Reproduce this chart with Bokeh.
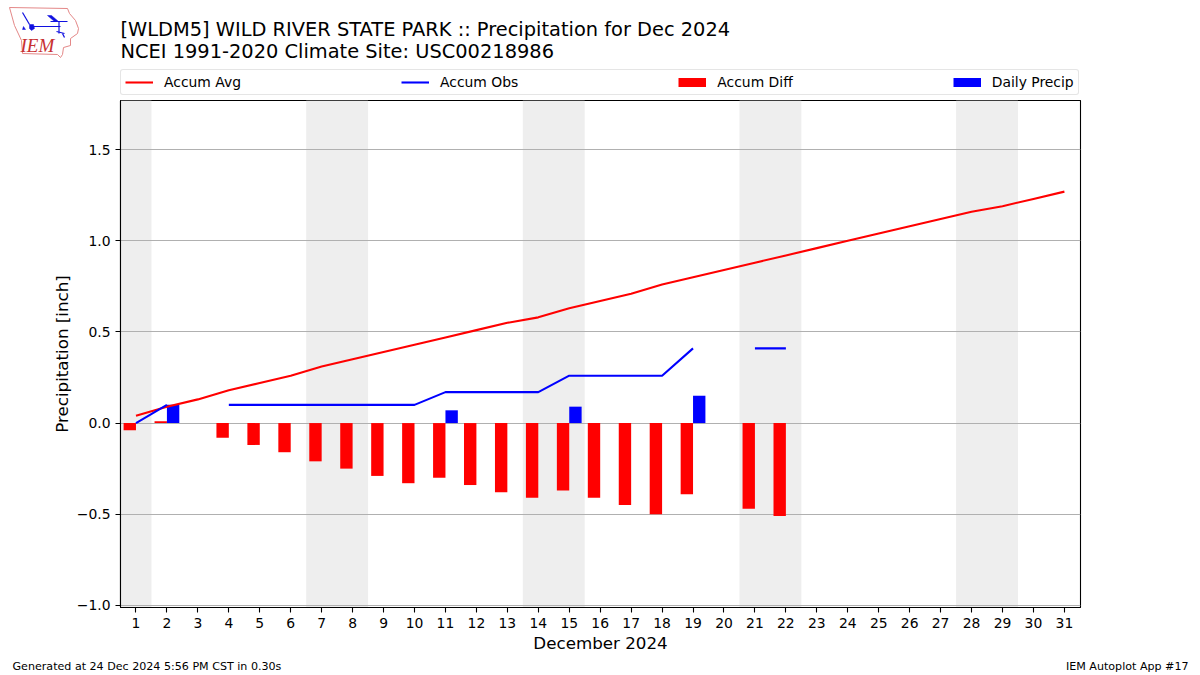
from bokeh.plotting import figure
from bokeh.embed import file_html
from bokeh.resources import INLINE
from bokeh.layouts import column
from bokeh.core.properties import value
from bokeh.models import (Range1d, Legend, LegendItem, BoxAnnotation, FixedTicker, ColumnDataSource)

days = list(range(1, 32))
accum_avg = [.04, .09, .13, .18, .22, .26, .31, .35, .39, .43, .47, .51, .55, .58, .63, .67,
             .71, .76, .80, .84, .88, .92, .96, 1.00, 1.04, 1.08, 1.12, 1.16, 1.19, 1.23, 1.27]
nan = float("nan")
accum_obs = [0, .10, nan, .10, .10, .10, .10, .10, .10, .10, .17, .17, .17, .17, .26, .26,
             .26, .26, .41, nan, .41, .41] + [nan] * 9
accum_diff = [-.04, .01, nan, -.08, -.12, -.16, -.21, -.25, -.29, -.33, -.30, -.34, -.38, -.41,
              -.37, -.41, -.45, -.50, -.39, nan, -.47, -.51] + [nan] * 9
daily = [0, .10, 0, 0, 0, 0, 0, 0, 0, 0, .07, 0, 0, 0, .09, 0, 0, 0, .15, 0, 0, 0] + [0] * 9
weekends = [(0.5, 1.5), (6.5, 8.5), (13.5, 15.5), (20.5, 22.5), (27.5, 29.5)]
y_ticks = [-1.0, -0.5, 0.0, 0.5, 1.0, 1.5]
title_lines = ["[WLDM5] WILD RIVER STATE PARK :: Precipitation for Dec 2024",
               "NCEI 1991-2020 Climate Site: USC00218986"]
footer_left = "Generated at 24 Dec 2024 5:56 PM CST in 0.30s"
footer_right = "IEM Autoplot App #17"
legend_labels = ["Accum Avg", "Accum Obs", "Accum Diff", "Daily Precip"]

W = 1200
HEAD_H, MAIN_H, FOOT_H = 100, 555, 20
FONT = "DejaVu Sans"
RED, BLUE = "#ff0000", "#0000ff"


def strip(height, y0):
    f = figure(width=W, height=height, output_backend="svg", toolbar_location=None,
               x_range=Range1d(0, W), y_range=Range1d(y0 + height, y0),
               x_axis_type=None, y_axis_type=None, frame_align=False,
               min_border_left=0, min_border_right=0, min_border_top=0, min_border_bottom=0)
    f.outline_line_color = None
    f.grid.visible = False
    return f


def put_text(f, x, y, s, size, align="left", font=FONT, color="black", style="normal"):
    f.text(x=[x], y=[y], text=[s], text_font=value(font), text_font_size=value(size),
           text_align=value(align), text_baseline=value("middle"), text_color=color,
           text_font_style=value(style))


head = strip(HEAD_H, 0)
put_text(head, 120, 29, title_lines[0], "19.4px")
put_text(head, 120, 51, title_lines[1], "19.4px")

# IEM logo
LOGO_BLUE = "#1010e0"
iowa_x = [9, 67, 69, 75, 78, 77, 70, 70, 63, 62, 60, 57, 22, 21, 14, 9]
iowa_y = [7, 8, 13, 20, 28, 33, 38, 45, 47, 54, 57, 54, 53, 40, 25, 7]
head.line(iowa_x, iowa_y, line_color="#e48888", line_width=1.0)
for xs, ys in [([31, 60], [26, 26]), ([22, 29], [12, 24]), ([50, 67], [21, 21]), ([58.5, 58.5], [21, 33]),
               ([56, 64], [31, 33]), ([62, 64], [33, 37])]:
    head.line(xs, ys, line_color=LOGO_BLUE, line_width=1.2)
for xs, ys in [([29, 33, 34, 31, 29], [24, 24, 28, 30, 28]),
               ([47, 51, 58, 54], [15, 15, 21, 21]),
               ([23, 25, 22], [26, 29, 29])]:
    head.patch(xs, ys, fill_color=LOGO_BLUE, line_color=LOGO_BLUE, line_width=0.5)
put_text(head, 20, 45, "IEM", "19px", font="Liberation Serif", color="#c83030", style="italic")

# legend keys live in the header strip, above the plot frame
empty = ColumnDataSource(dict(x=[nan], y=[nan]))
k_avg = head.line("x", "y", line_color=RED, line_width=2.08, source=empty)
k_obs = head.line("x", "y", line_color=BLUE, line_width=2.08, source=empty)
k_diff = head.line("x", "y", line_color=RED, line_width=9, source=empty)
k_daily = head.line("x", "y", line_color=BLUE, line_width=9, source=empty)
legend = Legend(items=[LegendItem(label=t, renderers=[r])
                       for t, r in zip(legend_labels, [k_avg, k_obs, k_diff, k_daily])],
                orientation="horizontal", location=(120, 5), spacing=160, padding=4, margin=0,
                glyph_width=28, glyph_height=10, label_standoff=11, label_height=15,
                label_text_font=FONT, label_text_font_size="13.9px", label_text_color="black",
                border_line_color="#cccccc", border_line_width=1.1, border_radius=3,
                background_fill_color="white", background_fill_alpha=1)
head.add_layout(legend, "center")

p = figure(width=W, height=MAIN_H, output_backend="svg", toolbar_location=None,
           x_range=Range1d(0.5, 31.52), y_range=Range1d(-1.012, 1.77), frame_align=False,
           min_border_left=120, min_border_right=120, min_border_top=0, min_border_bottom=47)
p.outline_line_color = "black"
p.outline_line_width = 1.1
p.xgrid.visible = False
p.ygrid.grid_line_color = "#b0b0b0"
p.ygrid.grid_line_width = 1.1
for ax in (p.xaxis[0], p.yaxis[0]):
    ax.axis_line_color = "black"
    ax.axis_line_width = 1.1
    ax.major_tick_line_color = "black"
    ax.major_tick_line_width = 1.1
    ax.major_tick_in = 0
    ax.major_tick_out = 5
    ax.minor_tick_line_color = None
    ax.major_label_text_font = FONT
    ax.major_label_text_font_size = "13.9px"
    ax.major_label_text_color = "black"
    ax.axis_label_text_font = FONT
    ax.axis_label_text_font_size = "16.7px"
    ax.axis_label_text_font_style = "normal"
    ax.axis_label_text_color = "black"
p.xaxis.ticker = FixedTicker(ticks=days)
p.yaxis.ticker = FixedTicker(ticks=y_ticks)
p.yaxis.major_label_overrides = {-1.0: "\u22121.0", -0.5: "\u22120.5", 0.0: "0.0", 0.5: "0.5", 1.0: "1.0", 1.5: "1.5"}
p.xaxis.axis_label = "December 2024"
p.yaxis.axis_label = "Precipitation [inch]"
p.xaxis.axis_label_standoff = 2
p.yaxis.axis_label_standoff = 2

grids = list(p.center)
bands = [BoxAnnotation(left=a, right=b, fill_color="#eeeeee", fill_alpha=1, line_color=None, level="underlay")
         for a, b in weekends]
p.center = bands + grids

src = ColumnDataSource(dict(day=days, avg=accum_avg, obs=accum_obs, diff=accum_diff, daily=daily,
                            diff_x=[d - 0.2 for d in days], daily_x=[d + 0.2 for d in days]))
p.vbar(x="diff_x", top="diff", bottom=0, width=0.4, fill_color=RED, line_color=None, source=src)
p.vbar(x="daily_x", top="daily", bottom=0, width=0.4, fill_color=BLUE, line_color=None, source=src)
p.line("day", "avg", line_color=RED, line_width=2.08, source=src)
p.line("day", "obs", line_color=BLUE, line_width=2.08, source=src)

foot = strip(FOOT_H, HEAD_H + MAIN_H)
put_text(foot, 12, 666, footer_left, "11.1px")
put_text(foot, 1188, 666, footer_right, "11.1px", align="right")

open("out.html", "w").write(file_html(column(head, p, foot, spacing=0), INLINE))
